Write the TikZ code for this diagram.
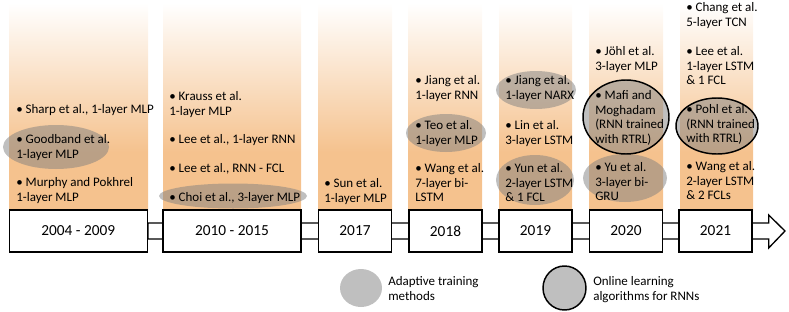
\documentclass[tikz,border=0pt]{standalone}
\usepackage{fontspec}
\setmainfont{Carlito}
\usetikzlibrary{calc,positioning,shapes.geometric,backgrounds}
\definecolor{warm}{RGB}{245,194,142}
\definecolor{spot}{RGB}{128,128,128}
\pgfdeclareverticalshading{warmfade}{100bp}{color(0bp)=(warm); color(25bp)=(warm); color(39bp)=(warm); color(75bp)=(white); color(100bp)=(white)}

\begin{document}
\begin{tikzpicture}[
  x=0.75pt, y=-0.75pt,
  font=\fontsize{9.75}{10.9}\selectfont,
  band/.style={shading=warmfade, draw=none},
  item/.style={anchor=north west, align=left, inner sep=0pt},
  yearbox/.style={draw, line width=1pt, fill=white, minimum height=31.5pt, minimum width=54.75pt, inner sep=0pt, font=\fontsize{11.5}{13}\selectfont},
  widebox/.style={yearbox, minimum width=103.5pt},
  adaptive/.style={fill=spot, fill opacity=0.5},
  online/.style={adaptive, draw=black, line width=1.1pt},
  arr/.style={draw, line width=1pt, fill=white}
]
\useasboundingbox (0,0) rectangle (789,311);

% timeline boxes
\node[widebox] (y0409) at (78.25,231) {2004 - 2009};
\node[widebox] (y1015) at (232,231) {2010 - 2015};
\node[yearbox] (y2017) at (355,231) {2017};
\node[yearbox] (y2018) at (445.5,231) {2018};
\node[yearbox] (y2019) at (535.5,231) {2019};
\node[yearbox] (y2020) at (626,231) {2020};
\node[yearbox] (y2021) at (715.5,231) {2021};
\coordinate (tip) at (785,231);

\begin{scope}[on background layer]
\shade[band] (9,3) rectangle (148,210);
\shade[band] (163,3) rectangle (301,210);
\shade[band] (318,3) rectangle (392,210);
\shade[band] (408,3) rectangle (482,210);
\shade[band] (499,3) rectangle (572,210);
\shade[band] (589,3) rectangle (663,210);
\shade[band] (680,3) rectangle (753,210);
\path[arr] ($(y0409.east)+(0,-8)$) -- ($(y2021.east)+(16,-8)$) -- ++(0,-8) -- (tip)
  -- ($(y2021.east)+(16,17)$) -- ++(0,-9) -- ($(y0409.east)+(0,8)$) -- cycle;
\end{scope}

% highlighted works
\fill[adaptive] (56,147) ellipse [x radius=53, y radius=22];
\fill[adaptive] (233,196) ellipse [x radius=74, y radius=12.5];
\fill[adaptive] (446,133) ellipse [x radius=40, y radius=19];
\fill[adaptive] (536,90) ellipse [x radius=40, y radius=19];
\fill[adaptive] (535,180) ellipse [x radius=39, y radius=25];
\fill[adaptive] (625,178) ellipse [x radius=42, y radius=24];
\path[online] (626,117) ellipse [x radius=43, y radius=37];
\path[online] (717,126) ellipse [x radius=41, y radius=28];

% 2004 - 2009
\node[item] (sharp) at (16,104.5) {• Sharp et al., 1-layer MLP};
\node[item] (goodband) at (16,134.5) {• Goodband et al.\\1-layer MLP};
\node[item] (murphy) at (16,177.5) {• Murphy and Pokhrel\\1-layer MLP};
% 2010 - 2015
\node[item] (krauss) at (169,91.5) {• Krauss et al.\\1-layer MLP};
\node[item] (leea) at (169,134.5) {• Lee et al., 1-layer RNN};
\node[item] (leeb) at (169,163.5) {• Lee et al., RNN - FCL};
\node[item] (choi) at (169,192.5) {• Choi et al., 3-layer MLP};
% 2017
\node[item] (sun) at (324,178.5) {• Sun et al.\\1-layer MLP};
% 2018
\node[item] (jianga) at (415,75.5) {• Jiang et al.\\1-layer RNN};
\node[item] (teo) at (415,120.5) {• Teo et al.\\1-layer MLP};
\node[item] (wanga) at (415,163.5) {• Wang et al.\\7-layer bi-\\LSTM};
% 2019
\node[item] (jiangb) at (505,75.5) {• Jiang et al.\\1-layer NARX};
\node[item] (lin) at (505,120.5) {• Lin et al.\\3-layer LSTM};
\node[item] (yun) at (505,163.5) {• Yun et al.\\2-layer LSTM\\\& 1 FCL};
% 2020
\node[item] (johl) at (595,46.5) {• Jöhl et al.\\3-layer MLP};
\node[item] (mafi) at (595,90.5) {• Mafi and\\Moghadam\\(RNN trained\\with RTRL)};
\node[item] (yu) at (595,162.5) {• Yu et al.\\3-layer bi-\\GRU};
% 2021
\node[item] (chang) at (686,2.5) {• Chang et al.\\5-layer TCN};
\node[item] (leec) at (686,46.5) {• Lee et al.\\1-layer LSTM\\\& 1 FCL};
\node[item] (pohl) at (686,104.5) {• Pohl et al.\\(RNN trained\\with RTRL)};
\node[item] (wangb) at (686,161.5) {• Wang et al.\\2-layer LSTM\\\& 2 FCLs};

% legend
\node[ellipse, adaptive, minimum width=31.5pt, minimum height=28.5pt] (adaptkey) at (361,288) {};
\node[item] (adapttext) at (388,276.5) {Adaptive training\\methods};
\node[ellipse, online, minimum width=32.25pt, minimum height=33pt] (onlinekey) at (564.5,288) {};
\node[item] (onlinetext) at (593,276.5) {Online learning\\algorithms for RNNs};
\end{tikzpicture}
\end{document}
